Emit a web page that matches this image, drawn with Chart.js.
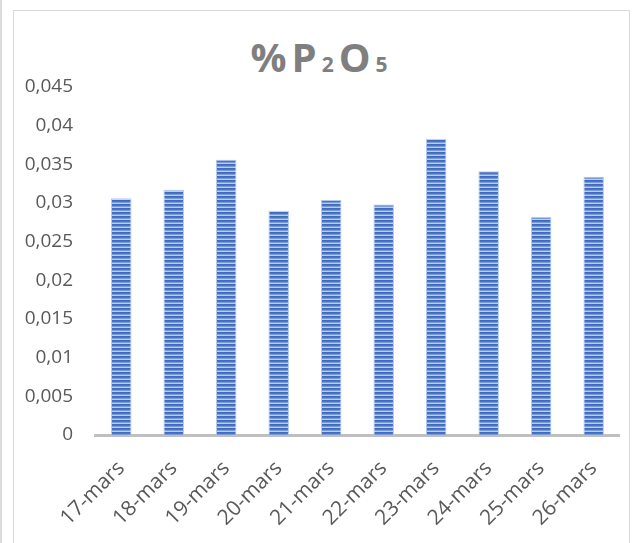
<!DOCTYPE html>
<html>
<head>
<meta charset="utf-8">
<script src="https://cdn.jsdelivr.net/npm/chart.js@4.4.1/dist/chart.umd.min.js"></script>
<style>
  html, body { margin: 0; padding: 0; background: #fff; }
  #wrap { position: relative; width: 633px; height: 543px; overflow: hidden; }
  #edge { position: absolute; left: 0; top: 0; width: 2px; height: 543px; background: #dcdcdc; }
  #frame { position: absolute; left: 13px; top: 10px; width: 615px; height: 540px;
           border: 1.5px solid #d9d9d9; border-bottom: none; }
  #title { position: absolute; left: 5px; width: 633px; top: 37px; text-align: center;
           font-family: "Open Sans", sans-serif; font-weight: bold; color: #7f7f7f;
           letter-spacing: 5px; line-height: 1; white-space: nowrap; }
  #title .big { font-size: 40px; }
  #title .small { font-size: 21px; }
  canvas { position: absolute; left: 0; top: 0; }
</style>
</head>
<body>
<div id="wrap">
  <div id="edge"></div>
  <div id="frame"></div>
  <div id="title"><span class="big">%P</span><span class="small">2</span><span class="big">O</span><span class="small">5</span></div>
  <canvas id="c" width="633" height="543"></canvas>
</div>
<script>
// Sampling dates and measured P2O5 content
const dates = ['17-mars', '18-mars', '19-mars', '20-mars', '21-mars', '22-mars', '23-mars', '24-mars', '25-mars', '26-mars'];
const p2o5 = [0.0306, 0.0317, 0.0356, 0.0290, 0.0304, 0.0298, 0.0383, 0.0341, 0.0282, 0.0334];
const yMax = 0.045;
const yStep = 0.005;

// Horizontal stripe fill for the bars
function stripeFill() {
  const tile = document.createElement('canvas');
  tile.width = 4; tile.height = 4;
  const t = tile.getContext('2d');
  const rows = ['#3f6bc1', '#4674c6', '#7d9cd6', '#bccdec'];
  rows.forEach((col, i) => { t.fillStyle = col; t.fillRect(0, i, 4, 1); });
  return document.createElement('canvas').getContext('2d').createPattern(tile, 'repeat');
}

const yFont = { family: '"Open Sans", sans-serif', size: 19 };
const xFont = { family: '"Open Sans", sans-serif', size: 21 };

new Chart(document.getElementById('c'), {
  type: 'bar',
  data: {
    labels: dates,
    datasets: [{
      data: p2o5,
      backgroundColor: stripeFill(),
      borderColor: 'rgba(170,195,235,0.9)',
      borderWidth: 1,
      categoryPercentage: 1,
      barPercentage: 0.39
    }]
  },
  options: {
    responsive: false,
    animation: false,
    devicePixelRatio: 1,
    layout: { padding: { left: 14, right: 10, top: 87, bottom: 0 } },
    plugins: { legend: { display: false }, tooltip: { enabled: false }, title: { display: false } },
    scales: {
      x: {
        grid: { display: false, drawTicks: false },
        border: { display: true, color: '#bfbfbf', width: 3 },
        ticks: {
          color: '#595959', font: xFont,
          minRotation: 45, maxRotation: 45, padding: 21, autoSkip: false
        },
        afterFit: (s) => { s.height = 108; }
      },
      y: {
        min: 0, max: yMax,
        grid: { display: false, drawTicks: false },
        border: { display: false },
        ticks: {
          stepSize: yStep, color: '#595959', font: yFont, padding: 22,
          callback: (v) => {
            const r = Math.round(v * 1000) / 1000;
            return r === 0 ? '0' : String(r).replace('.', ',');
          }
        },
        afterFit: (s) => { s.width = 81; }
      }
    }
  }
});
</script>
</body>
</html>
